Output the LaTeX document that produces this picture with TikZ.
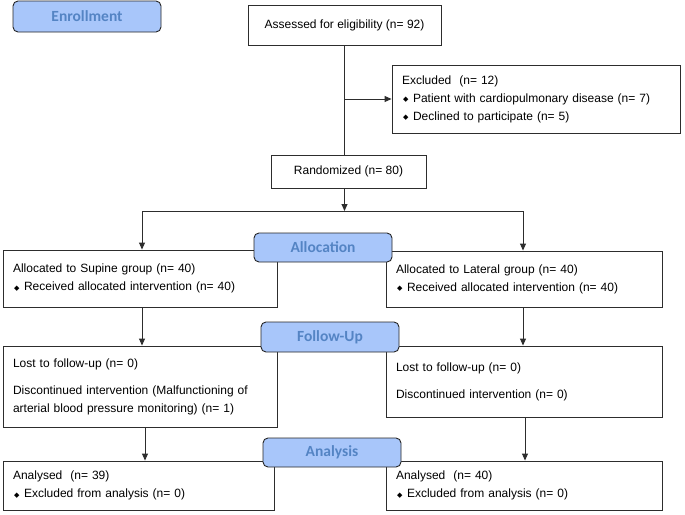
\documentclass[tikz,border=0pt]{standalone}
\usepackage{fontspec}
\setmainfont{Liberation Sans}
\newfontfamily\pillfont{Carlito}
\newfontfamily\djv{DejaVu Sans}
\usetikzlibrary{arrows.meta}
\definecolor{pillfill}{RGB}{168,198,250}
\definecolor{pilltext}{RGB}{84,132,196}
\definecolor{lineclr}{RGB}{45,45,45}
\newcommand{\bul}{\hspace*{1pt}\makebox[10pt][l]{\djv\fontsize{7}{7}\selectfont\raisebox{0.6pt}{◆}}}
\begin{document}
\begin{tikzpicture}[x=1pt,y=-1pt,
  box/.style={draw=lineclr, line width=0.9pt, fill=white, inner xsep=10pt, inner ysep=0pt,
    align=left, font=\fontsize{12}{18}\selectfont, text=black},
  pill/.style={draw=black!85, line width=0.9pt, fill=pillfill, rounded corners=5pt,
    font=\pillfont\bfseries\fontsize{15.5}{15.5}\selectfont, text=pilltext, inner sep=0pt},
  conn/.style={draw=lineclr, line width=0.9pt},
  arr/.style={conn, -{Triangle[length=7pt,width=6pt]}}]
\useasboundingbox (0,0) rectangle (685,514);

% boxes
\node[box, minimum width=193pt, minimum height=40pt, align=center] (assess) at (344.5,25) {Assessed for eligibility (n= 92)};
\node[box, text width=268pt, minimum height=68pt] (excl) at (536,99)
  {Excluded\ \ (n= 12)\\ \bul Patient with cardiopulmonary disease (n= 7)\\ \bul Declined to participate (n= 5)};
\node[box, minimum width=155pt, minimum height=33pt, align=center] (rand) at (348.5,171.5) {Randomized (n= 80)};
\node[box, text width=254pt, minimum height=57pt] (sup) at (140,278.5)
  {Allocated to Supine group (n= 40)\\ \bul Received allocated intervention (n= 40)};
\node[box, text width=256pt, minimum height=56pt] (lat) at (524,279)
  {Allocated to Lateral group (n= 40)\\ \bul Received allocated intervention (n= 40)};
\node[box, text width=254pt, minimum height=81pt] (lostL) at (140,386.5)
  {Lost to follow-up (n= 0)\\[9pt] Discontinued intervention (Malfunctioning of\\ arterial blood pressure monitoring) (n= 1)};
\node[box, text width=256pt, minimum height=71pt] (lostR) at (524,381.5)
  {Lost to follow-up (n= 0)\\[9pt] Discontinued intervention (n= 0)\\[-4pt]};
\node[box, text width=251pt, minimum height=49pt] (anL) at (138.5,485.5)
  {Analysed\ \ (n= 39)\\ \bul Excluded from analysis (n= 0)};
\node[box, text width=256pt, minimum height=49pt] (anR) at (524,485.5)
  {Analysed\ \ (n= 40)\\ \bul Excluded from analysis (n= 0)};

% connectors
\coordinate (split) at (344.5,211);
\coordinate (splitL) at (142,211);
\coordinate (splitR) at (523,211);
\coordinate (cL) at (145,0);
\coordinate (cR) at (525,0);
\draw[conn] (assess.south) -- (assess.south |- rand.north);
\draw[arr] (assess.south |- excl.west) -- (excl.west);
\draw[arr] (assess.south |- rand.south) -- (split);
\draw[conn] (splitL) -- (splitR);
\draw[arr] (splitL) -- (splitL |- sup.north);
\draw[arr] (splitR) -- (splitR |- lat.north);
\draw[arr] (splitL |- sup.south) -- (splitL |- lostL.north);
\draw[arr] (splitR |- lat.south) -- (splitR |- lostR.north);
\draw[arr] (cL |- lostL.south) -- (cL |- anL.north);
\draw[arr] (cR |- lostR.south) -- (cR |- anR.north);

% stage labels
\node[pill, minimum width=148pt, minimum height=31pt] (enr) at (87,16.5) {Enrollment};
\node[pill, minimum width=138pt, minimum height=29pt] (alloc) at (323,247.5) {Allocation};
\node[pill, minimum width=138pt, minimum height=30pt] (follow) at (330,337) {Follow-Up};
\node[pill, minimum width=138pt, minimum height=29pt] (anal) at (332,452.5) {Analysis};
\end{tikzpicture}
\end{document}
